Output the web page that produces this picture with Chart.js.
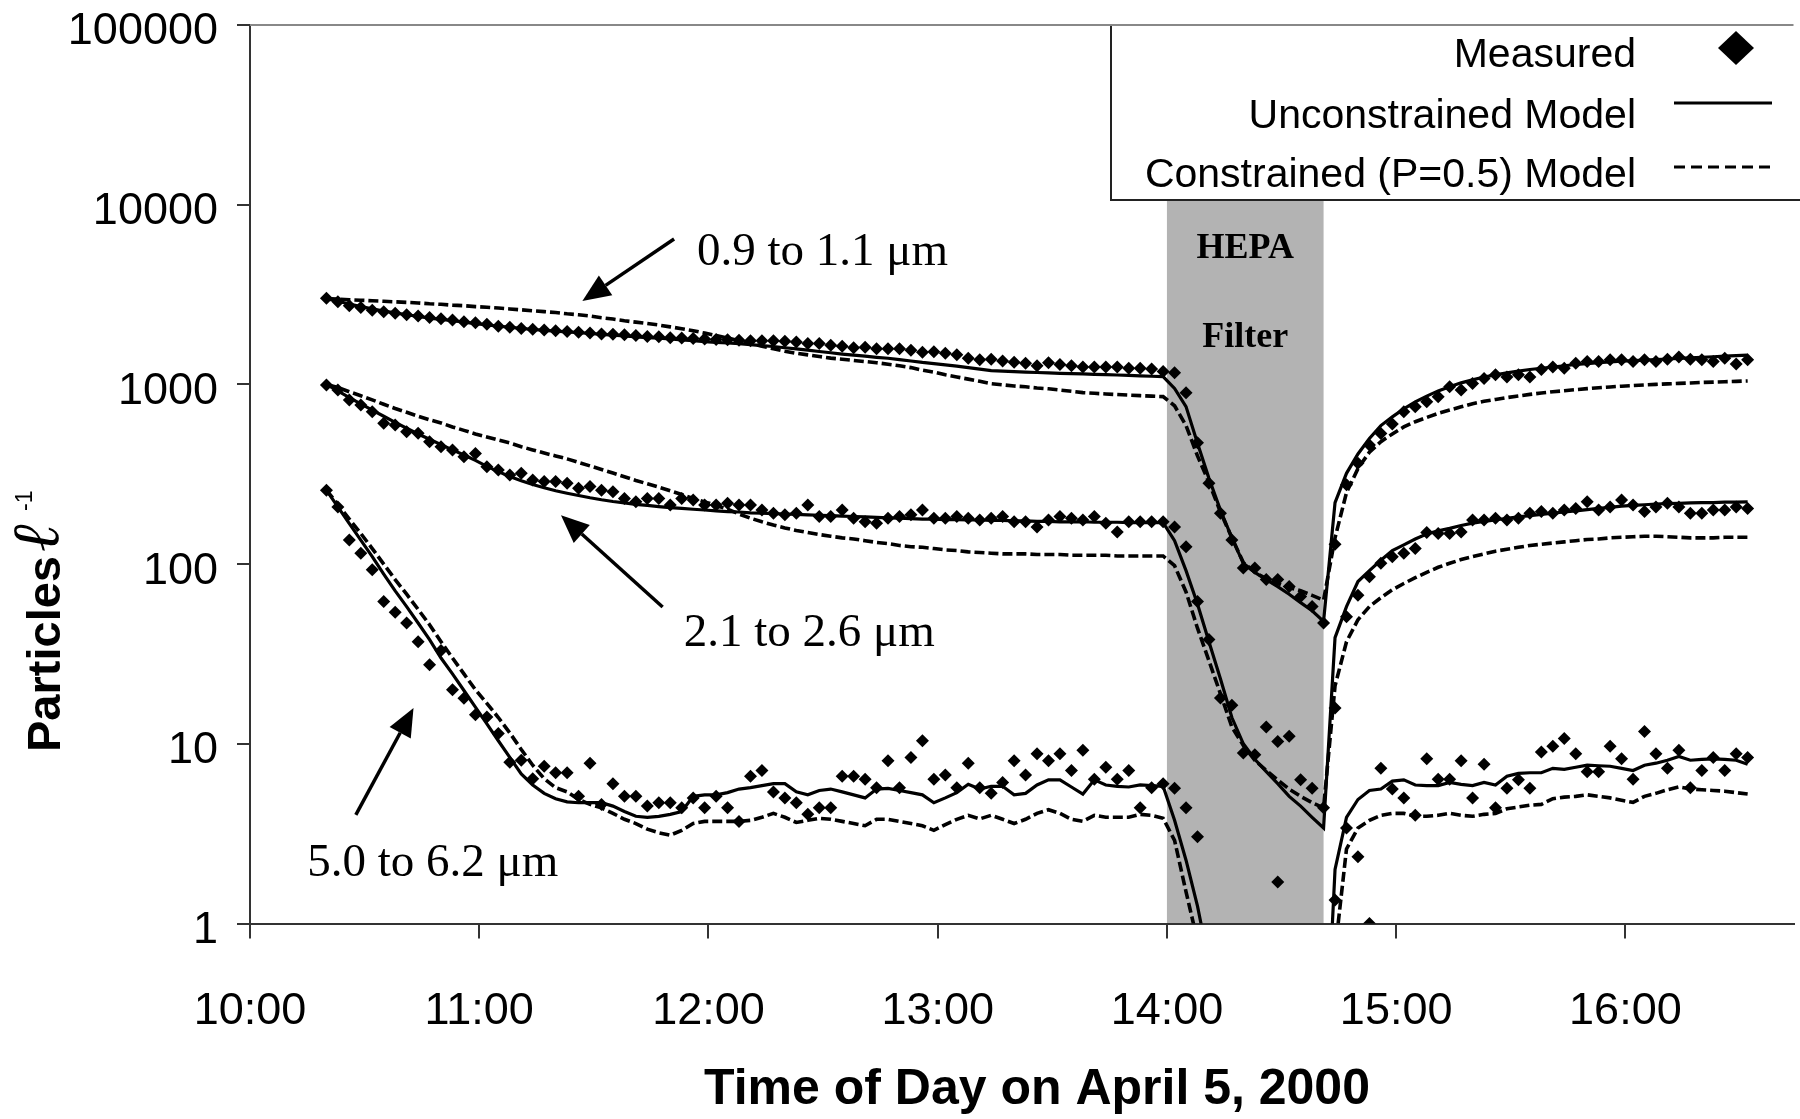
<!DOCTYPE html>
<html>
<head>
<meta charset="utf-8">
<script src="https://cdn.jsdelivr.net/npm/chart.js"></script>
<style>
  html, body { margin: 0; padding: 0; background: #fff; }
  canvas { display: block; }
</style>
</head>
<body>
<canvas id="particleChart" width="1800" height="1119"></canvas>
<script>
// sample times, minutes after midnight (10:20 ... 16:32, every 3 min)
const times = [
  620, 623, 626, 629, 632, 635, 638, 641, 644, 647,
  650, 653, 656, 659, 662, 665, 668, 671, 674, 677,
  680, 683, 686, 689, 692, 695, 698, 701, 704, 707,
  710, 713, 716, 719, 722, 725, 728, 731, 734, 737,
  740, 743, 746, 749, 752, 755, 758, 761, 764, 767,
  770, 773, 776, 779, 782, 785, 788, 791, 794, 797,
  800, 803, 806, 809, 812, 815, 818, 821, 824, 827,
  830, 833, 836, 839, 842, 845, 848, 851, 854, 857,
  860, 863, 866, 869, 872, 875, 878, 881, 884, 887,
  890, 893, 896, 899, 902, 905, 908, 911, 914, 917,
  920, 923, 926, 929, 932, 935, 938, 941, 944, 947,
  950, 953, 956, 959, 962, 965, 968, 971, 974, 977,
  980, 983, 986, 989, 992
];

// 0.9 to 1.1 um
const measured09 = [
  3015, 2880, 2740, 2680, 2590, 2540, 2490, 2440, 2400, 2360,
  2320, 2280, 2230, 2200, 2160, 2110, 2080, 2050, 2030, 2010,
  1990, 1970, 1950, 1930, 1910, 1900, 1890, 1870, 1850, 1840,
  1820, 1810, 1800, 1790, 1780, 1770, 1760, 1750, 1750, 1750,
  1740, 1720, 1690, 1690, 1650, 1630, 1600, 1610, 1580, 1580,
  1580, 1550, 1510, 1520, 1490, 1460, 1400, 1370, 1380, 1350,
  1330, 1310, 1270, 1320, 1290, 1270, 1250, 1250, 1250, 1250,
  1230, 1230, 1220, 1180, 1160, 899, 474, 282, 192, 136,
  95, 95, 82, 82, 75, 66, 58, 47, 129, 276,
  364, 460, 533, 603, 705, 752, 801, 855, 970, 930,
  1010, 1080, 1130, 1100, 1130, 1100, 1210, 1250, 1230, 1310,
  1340, 1340, 1370, 1370, 1340, 1370, 1340, 1380, 1420, 1380,
  1370, 1340, 1400, 1300, 1370
];
const unconstrained09 = [
  3000, 2900, 2800, 2710, 2630, 2560, 2500, 2440, 2390, 2340,
  2300, 2260, 2220, 2180, 2140, 2110, 2080, 2050, 2020, 2000,
  1980, 1960, 1940, 1920, 1900, 1880, 1860, 1840, 1820, 1810,
  1790, 1770, 1750, 1730, 1715, 1700, 1685, 1665, 1645, 1625,
  1600, 1575, 1550, 1525, 1500, 1475, 1455, 1435, 1415, 1398,
  1375, 1350, 1325, 1305, 1285, 1265, 1240, 1215, 1193, 1185,
  1178, 1170, 1165, 1158, 1153, 1148, 1143, 1138, 1133, 1128,
  1122, 1116, 1110, 1104, 950, 752, 470, 300, 200, 140,
  101, 90, 82, 75, 68, 61, 55, 48, 220, 320,
  410, 500, 590, 660, 730, 800, 860, 920, 970, 1020,
  1060, 1100, 1130, 1160, 1185, 1210, 1230, 1250, 1270, 1290,
  1305, 1320, 1335, 1345, 1355, 1365, 1375, 1385, 1395, 1405,
  1415, 1425, 1435, 1445, 1455
];
const constrained09 = [
  3000, 2980, 2960, 2940, 2920, 2900, 2880, 2860, 2840, 2810,
  2790, 2760, 2740, 2710, 2690, 2660, 2630, 2600, 2570, 2540,
  2510, 2470, 2440, 2400, 2350, 2310, 2260, 2220, 2180, 2140,
  2090, 2040, 1990, 1930, 1870, 1810, 1750, 1690, 1630, 1580,
  1530, 1490, 1460, 1430, 1400, 1380, 1360, 1340, 1320, 1295,
  1270, 1240, 1200, 1170, 1130, 1100, 1070, 1040, 1010, 995,
  980, 970, 955, 945, 930, 915, 900, 892, 885, 878,
  872, 866, 860, 855, 760, 590, 400, 285, 195, 140,
  102, 90, 83, 78, 74, 71, 67, 63, 140, 250,
  340, 420, 480, 530, 580, 620, 655, 690, 720, 750,
  780, 805, 825, 845, 862, 880, 895, 910, 922, 935,
  947, 958, 968, 977, 985, 993, 1000, 1007, 1013, 1019,
  1025, 1030, 1035, 1040, 1045
];

// 2.1 to 2.6 um
const measured21 = [
  993, 930, 820, 767, 705, 607, 594, 545, 534, 480,
  450, 432, 396, 413, 348, 334, 313, 320, 294, 288,
  288, 282, 264, 270, 258, 253, 232, 222, 232, 232,
  213, 232, 227, 213, 213, 218, 213, 213, 200, 192,
  188, 192, 213, 184, 184, 200, 180, 172, 169, 180,
  184, 188, 200, 180, 180, 184, 180, 176, 180, 184,
  172, 172, 161, 176, 184, 180, 176, 184, 169, 151,
  172, 172, 172, 172, 161, 125, 62, 38, 18, 16.4,
  8.9, 8.7, 12.4, 10.3, 11, 6.3, 5.65, 4.4, 15.8, 51,
  67, 85, 101, 110, 115, 122, 150, 148, 148, 151,
  176, 176, 180, 176, 180, 192, 196, 192, 200, 204,
  222, 200, 208, 227, 213, 196, 208, 218, 208, 192,
  192, 200, 200, 208, 204
];
const unconstrained21 = [
  1000, 920, 845, 780, 720, 665, 615, 570, 530, 495,
  462, 432, 405, 378, 350, 327, 307, 291, 277, 266,
  256, 248, 241, 234, 228, 223, 219, 215, 212, 209,
  206, 204, 202, 200, 198, 196, 195, 193, 192, 191,
  190, 189, 188, 187, 186, 185, 184, 183, 182, 181,
  180, 179, 178, 178, 177, 177, 176, 176, 175, 175,
  174, 174, 173, 173, 172, 172, 172, 171, 171, 171,
  170, 170, 170, 170, 135, 92, 60, 37, 23, 14,
  10, 8.2, 7.0, 6.0, 5.1, 4.5, 3.9, 3.4, 39, 58,
  80, 92, 105, 119, 128, 138, 147, 153, 158, 164,
  169, 173, 176, 180, 183, 186, 189, 192, 195, 198,
  201, 204, 207, 210, 212, 214, 216, 217, 218, 219,
  220, 220, 221, 221, 222
];
const constrained21 = [
  1000, 960, 910, 865, 820, 775, 735, 700, 665, 635,
  610, 580, 555, 530, 510, 490, 472, 450, 432, 415,
  400, 385, 368, 352, 336, 321, 306, 292, 280, 268,
  256, 244, 232, 222, 212, 202, 190, 180, 172, 165,
  159, 154, 150, 146, 143, 140, 138, 135, 132, 130,
  127, 125, 124, 122, 120, 119, 117, 116, 115, 114,
  114, 114, 113, 113, 113, 112, 112, 112, 112, 111,
  111, 111, 111, 111, 98, 70, 44, 29, 19, 12.4,
  9.8, 8.1, 7.1, 6.3, 5.6, 5.1, 4.7, 4.4, 21, 37,
  49, 58, 65, 72, 78, 84, 90, 96, 101, 106,
  110, 114, 118, 121, 124, 127, 129, 131, 133, 135,
  137, 138, 140, 141, 142, 143, 143, 142, 141, 140,
  140, 140, 141, 141, 141
];

// 5.0 to 6.2 um
const measured50 = [
  258, 208, 136, 115, 93, 62, 54, 47, 37, 27.5,
  33, 20, 17.9, 14.5, 14.1, 11.4, 7.9, 8.1, 6.4, 7.5,
  6.9, 6.9, 5.1, 7.8, 4.6, 6.0, 5.1, 5.1, 4.5, 4.7,
  4.7, 4.4, 5.0, 4.4, 5.1, 4.4, 3.7, 6.6, 7.1, 5.4,
  5.0, 4.7, 4.05, 4.4, 4.4, 6.6, 6.6, 6.35, 5.7, 8.05,
  5.7, 8.4, 10.4, 6.35, 6.7, 5.7, 7.8, 5.7, 5.3, 6.1,
  8.05, 6.7, 8.8, 8.05, 8.8, 7.1, 9.2, 6.35, 7.4, 6.35,
  7.1, 4.4, 5.7, 6.0, 5.65, 4.4, 3.04, null, null, null,
  null, null, null, 1.7, null, null, null, null, 1.35, 3.4,
  2.35, 1.0, 7.3, 5.6, 5.0, 4.0, 8.25, 6.35, 6.35, 8.05,
  5.0, 7.7, 4.4, 5.65, 6.3, 5.65, 9.0, 9.7, 10.7, 8.8,
  7.0, 7.0, 9.7, 8.25, 6.35, 11.7, 8.8, 7.3, 9.2, 5.7,
  7.1, 8.4, 7.1, 8.8, 8.4
];
const unconstrained50 = [
  258, 208, 168, 136, 110, 88, 71, 58, 47, 38,
  30, 24.5, 19.8, 16, 12.9, 10.4, 8.4, 6.8, 5.9, 5.3,
  4.95, 4.75, 4.7, 4.7, 4.7, 4.5, 4.2, 3.95, 3.9, 3.95,
  4.05, 4.2, 5.1, 5.2, 5.2, 5.35, 5.6, 5.7, 5.85, 6.0,
  6.0, 5.4, 5.2, 5.5, 5.6, 5.4, 5.2, 5.0, 5.6, 5.65,
  5.5, 5.35, 5.2, 4.7, 5.0, 5.35, 5.95, 5.6, 5.8, 5.8,
  5.2, 5.3, 5.9, 6.3, 6.3, 5.75, 5.25, 6.3, 5.9, 5.8,
  5.75, 5.9, 5.85, 5.8, 3.75, 2.25, 1.25, 0.6, 0.3, null,
  null, null, null, null, null, null, null, 0.1, 2.0, 3.9,
  4.9, 5.5, 5.6, 6.2, 6.3, 5.9, 5.85, 5.85, 6.1, 5.95,
  5.85, 6.1, 5.9, 6.6, 6.85, 6.9, 6.9, 7.3, 7.2, 7.4,
  7.6, 7.55, 7.5, 7.3, 7.1, 7.6, 7.8, 8.1, 8.5, 8.1,
  8.2, 8.25, 8.2, 8.1, 7.7
];
const constrained50 = [
  258, 215, 178, 148, 122, 100, 82, 68, 56, 46,
  37, 30, 24.5, 20, 16.8, 14.0, 11.5, 9.3, 7.6, 6.4,
  5.7, 5.4, 4.9, 4.6, 4.4, 4.1, 3.8, 3.6, 3.35, 3.2,
  3.1, 3.3, 3.6, 3.7, 3.7, 3.7, 3.7, 3.75, 3.9, 4.1,
  3.9, 3.65, 3.75, 3.85, 3.8, 3.7, 3.6, 3.5, 3.8, 3.8,
  3.7, 3.6, 3.5, 3.3, 3.55, 3.8, 4.0, 3.82, 4.0, 3.8,
  3.6, 3.8, 4.1, 4.3, 4.1, 3.8, 3.7, 4.0, 3.9, 3.9,
  3.9, 4.05, 4.0, 3.85, 2.9, 1.5, 0.8, 0.4, null, null,
  null, null, null, null, null, null, null, null, 0.7, 2.6,
  3.4, 3.75, 4.0, 4.1, 4.1, 3.95, 3.95, 4.0, 4.1, 4.0,
  3.95, 4.05, 4.1, 4.35, 4.45, 4.55, 4.6, 4.95, 5.05, 5.1,
  5.2, 5.1, 5.0, 4.85, 4.72, 5.1, 5.3, 5.55, 5.75, 5.6,
  5.55, 5.5, 5.45, 5.35, 5.25
];

const xTicks = [600, 660, 720, 780, 840, 900, 960];
const yTicks = [1, 10, 100, 1000, 10000, 100000];
const hepaPeriod = [840, 881];
const legendLabels = ["Measured", "Unconstrained Model", "Constrained (P=0.5) Model"];
const xTitle = "Time of Day on April 5, 2000";

// annotation anchors in data units (minutes, particles)
const sizeNotes = [
  { text: "0.9 to 1.1 \u03bcm", at: [717, 4620], arrow: [[711, 6440], [687, 2910]] },
  { text: "2.1 to 2.6 \u03bcm", at: [713.5, 35], arrow: [[708, 57.7], [681.4, 187]] },
  { text: "5.0 to 6.2 \u03bcm", at: [615, 1.84], arrow: [[627.7, 4.02], [642.8, 15.8]] }
];

const SANS = '"Liberation Sans", Arial, sans-serif';
const SERIF = '"Liberation Serif", "Times New Roman", serif';

function pts(values) {
  return times.map((t, i) => ({ x: t, y: values[i] }));
}

function measuredSet(values) {
  return {
    label: legendLabels[0], data: pts(values), showLine: false,
    pointStyle: "rectRot", pointRadius: 6.5, pointBackgroundColor: "#000",
    pointBorderColor: "#000", pointBorderWidth: 0
  };
}

function modelSet(values, dashed) {
  return {
    label: dashed ? legendLabels[2] : legendLabels[1], data: pts(values),
    borderColor: "#000", borderWidth: dashed ? 3.6 : 3.2,
    borderDash: dashed ? [10, 4] : [], borderCapStyle: "butt",
    pointRadius: 0, tension: 0, spanGaps: false, fill: false
  };
}

function drawArrow(ctx, x1, y1, x2, y2) {
  const ang = Math.atan2(y2 - y1, x2 - x1);
  const head = 28, half = 12;
  const bx = x2 - head * Math.cos(ang), by = y2 - head * Math.sin(ang);
  ctx.beginPath();
  ctx.moveTo(x1, y1);
  ctx.lineTo(bx, by);
  ctx.lineWidth = 3.5;
  ctx.stroke();
  ctx.beginPath();
  ctx.moveTo(x2, y2);
  ctx.lineTo(bx + half * Math.sin(ang), by - half * Math.cos(ang));
  ctx.lineTo(bx - half * Math.sin(ang), by + half * Math.cos(ang));
  ctx.closePath();
  ctx.fill();
}

// grey HEPA filter period, drawn under the axes
const hepaBand = {
  id: "hepaBand",
  beforeDraw(chart) {
    const { ctx, chartArea, scales } = chart;
    const x0 = scales.x.getPixelForValue(hepaPeriod[0]);
    const x1 = scales.x.getPixelForValue(hepaPeriod[1]);
    ctx.save();
    ctx.fillStyle = "#b3b3b3";
    ctx.fillRect(x0, chartArea.top, x1 - x0, chartArea.bottom - chartArea.top);
    ctx.restore();
  }
};

// size labels, arrows and the HEPA Filter text
const notes = {
  id: "notes",
  afterDatasetsDraw(chart) {
    const { ctx, scales } = chart;
    const px = v => scales.x.getPixelForValue(v);
    const py = v => scales.y.getPixelForValue(v);
    ctx.save();
    ctx.fillStyle = "#000";
    ctx.strokeStyle = "#000";
    ctx.font = "47px " + SERIF;
    ctx.textAlign = "left";
    ctx.textBaseline = "alphabetic";
    sizeNotes.forEach(n => {
      ctx.fillText(n.text, px(n.at[0]), py(n.at[1]));
      const [a, b] = n.arrow;
      drawArrow(ctx, px(a[0]), py(a[1]), px(b[0]), py(b[1]));
    });
    const mid = (hepaPeriod[0] + hepaPeriod[1]) / 2;
    ctx.font = "bold 36px " + SERIF;
    ctx.textAlign = "center";
    ctx.fillText("HEPA", px(mid), py(5050));
    ctx.fillText("Filter", px(mid), py(1622));
    ctx.restore();
  }
};

// legend box in the top right corner, plus the top frame line
const legendBox = {
  id: "legendBox",
  afterDraw(chart) {
    const { ctx, chartArea } = chart;
    const left = 1111, top = chartArea.top, bottom = 200, right = chart.width + 2;
    ctx.save();
    ctx.fillStyle = "#fff";
    ctx.fillRect(left, top, right - left, bottom - top);
    ctx.strokeStyle = "#222";
    ctx.lineWidth = 2;
    ctx.beginPath();
    ctx.moveTo(left, top);
    ctx.lineTo(left, bottom);
    ctx.lineTo(right, bottom);
    ctx.stroke();
    ctx.strokeStyle = "#888";
    ctx.beginPath();
    ctx.moveTo(chartArea.left, top);
    ctx.lineTo(chartArea.right, top);
    ctx.stroke();

    ctx.fillStyle = "#000";
    ctx.font = "41px " + SANS;
    ctx.textAlign = "right";
    ctx.textBaseline = "alphabetic";
    const rows = [67, 128, 187];
    legendLabels.forEach((label, i) => ctx.fillText(label, 1636, rows[i]));

    // diamond
    ctx.beginPath();
    ctx.moveTo(1736, 48 - 17);
    ctx.lineTo(1736 + 18, 48);
    ctx.lineTo(1736, 48 + 17);
    ctx.lineTo(1736 - 18, 48);
    ctx.closePath();
    ctx.fill();
    // solid
    ctx.strokeStyle = "#000";
    ctx.lineWidth = 3;
    ctx.beginPath();
    ctx.moveTo(1674, 103);
    ctx.lineTo(1772, 103);
    ctx.stroke();
    // dashed
    ctx.setLineDash([11, 6]);
    ctx.beginPath();
    ctx.moveTo(1674, 167);
    ctx.lineTo(1772, 167);
    ctx.stroke();
    ctx.restore();
  }
};

// axis titles: rotated y title with script l and superscript, x title below ticks
const axisTitles = {
  id: "axisTitles",
  afterDraw(chart) {
    const { ctx } = chart;
    ctx.save();
    ctx.fillStyle = "#000";
    ctx.textAlign = "center";
    ctx.textBaseline = "alphabetic";
    ctx.font = "bold 50px " + SANS;
    ctx.fillText(xTitle, 1037, 1104);

    ctx.translate(60, 752);
    ctx.rotate(-Math.PI / 2);
    ctx.textAlign = "left";
    ctx.font = "bold 47px " + SANS;
    ctx.fillText("Particles", 0, 0);
    ctx.font = 'italic 66px "DejaVu Serif", serif';
    ctx.fillText("\u2113", 200, -2);
    ctx.font = "23px " + SANS;
    ctx.fillText("-1", 241, -28);
    ctx.restore();
  }
};

Chart.defaults.font.family = SANS;
Chart.defaults.color = "#000";

new Chart(document.getElementById("particleChart"), {
  type: "line",
  data: {
    datasets: [
      measuredSet(measured09),
      measuredSet(measured21),
      measuredSet(measured50),
      modelSet(unconstrained09, false),
      modelSet(unconstrained21, false),
      modelSet(unconstrained50, false),
      modelSet(constrained09, true),
      modelSet(constrained21, true),
      modelSet(constrained50, true)
    ]
  },
  options: {
    responsive: false,
    animation: false,
    events: [],
    layout: { padding: { top: 25, left: 0, right: 0, bottom: 0 } },
    plugins: {
      legend: { display: false },
      tooltip: { enabled: false }
    },
    scales: {
      x: {
        type: "linear",
        min: 600,
        max: 1004,
        afterFit: scale => {
          scale.height = 195.5;
          scale.paddingLeft = 0;
          scale.paddingRight = 0;
        },
        afterBuildTicks: axis => { axis.ticks = xTicks.map(v => ({ value: v })); },
        grid: { drawOnChartArea: false, drawTicks: true, tickLength: 15, color: "#333", lineWidth: 2 },
        border: { display: true, color: "#333", width: 2 },
        ticks: {
          autoSkip: false, maxRotation: 0, padding: 46,
          font: { size: 45 },
          callback: v => (v / 60) + ":00"
        },
        title: { display: false }
      },
      y: {
        type: "logarithmic",
        min: 1,
        max: 100000,
        afterFit: scale => {
          scale.width = 250;
          scale.paddingTop = 0;
          scale.paddingBottom = 0;
        },
        afterBuildTicks: axis => { axis.ticks = yTicks.map(v => ({ value: v })); },
        grid: { drawOnChartArea: false, drawTicks: true, tickLength: 13, color: "#333", lineWidth: 2 },
        border: { display: true, color: "#333", width: 2 },
        ticks: {
          autoSkip: false, padding: 19, labelOffset: 7,
          font: { size: 45 },
          callback: v => String(v)
        }
      }
    }
  },
  plugins: [hepaBand, notes, legendBox, axisTitles]
});
</script>
</body>
</html>
